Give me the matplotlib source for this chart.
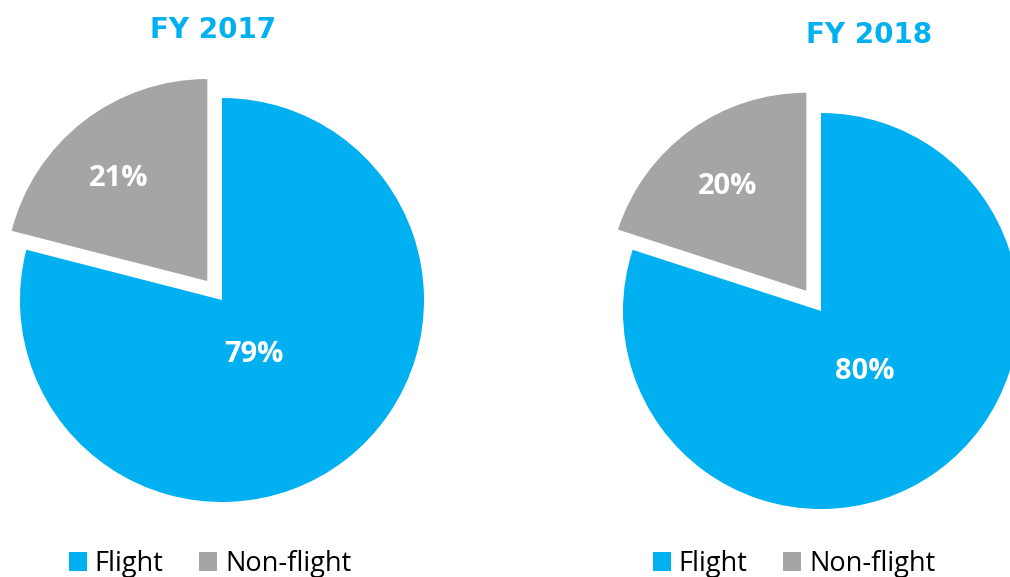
import matplotlib.pyplot as plt
import numpy as np

years = ["FY 2017", "FY 2018"]
labels = ["Non-flight", "Flight"]
shares = [[21, 79], [20, 80]]
colors = ["#A5A5A5", "#00B0F0"]
legend_order = ["Flight", "Non-flight"]

W, H = 1010, 577
plt.rcParams['font.family'] = ['Open Sans', 'DejaVu Sans']

fig = plt.figure(figsize=(W / 100, H / 100), dpi=100)
ax = fig.add_axes([0, 0, 1, 1])

# pie layout in pixel coords (y up)
centers = [(222, H - 300), (821, H - 311)]
radii = [202, 198]
explode = [24, 25]   # pie explode is in data units, here pixels
# label distance (fraction of radius) and angle nudge (deg) per slice
label_dist = [[0.67, 0.315], [0.66, 0.38]]
label_turn = [[3, -7.6], [1, 0]]
title_pos = [(213, H - 38), (869, H - 43)]   # baseline
legend_pos = [(210, H - 564), (794, H - 564)]

for i in range(2):
    cx, cy = centers[i]
    r = radii[i]
    wedges, _ = ax.pie(
        shares[i], colors=colors, startangle=90, counterclock=True,
        explode=[explode[i], 0], center=(cx, cy), radius=r,
        wedgeprops=dict(edgecolor='none'))
    for j, w in enumerate(wedges):
        th = np.deg2rad((w.theta1 + w.theta2) / 2 + label_turn[i][j])
        wx, wy = w.center
        d = label_dist[i][j] * r
        ax.text(wx + d * np.cos(th), wy + d * np.sin(th), f"{shares[i][j]}%",
                ha='center', va='center', color='white', fontsize=21,
                fontweight='bold')

    ax.text(*title_pos[i], years[i], ha='center', va='baseline',
            fontsize=20, fontweight='bold', color='#00B0F0',
            family='DejaVu Sans')

    handles = [wedges[labels.index(l)] for l in legend_order]
    fig.legend(handles, legend_order, loc='center', ncol=2,
               bbox_to_anchor=legend_pos[i], bbox_transform=ax.transData,
               frameon=False, fontsize=19.5, handlelength=0.66,
               handleheight=0.66, handletextpad=0.3, columnspacing=1.3,
               borderpad=0)

ax.set_xlim(0, W)
ax.set_ylim(0, H)
ax.set_aspect('equal')
ax.axis('off')

fig.savefig("out.png", dpi=100)
